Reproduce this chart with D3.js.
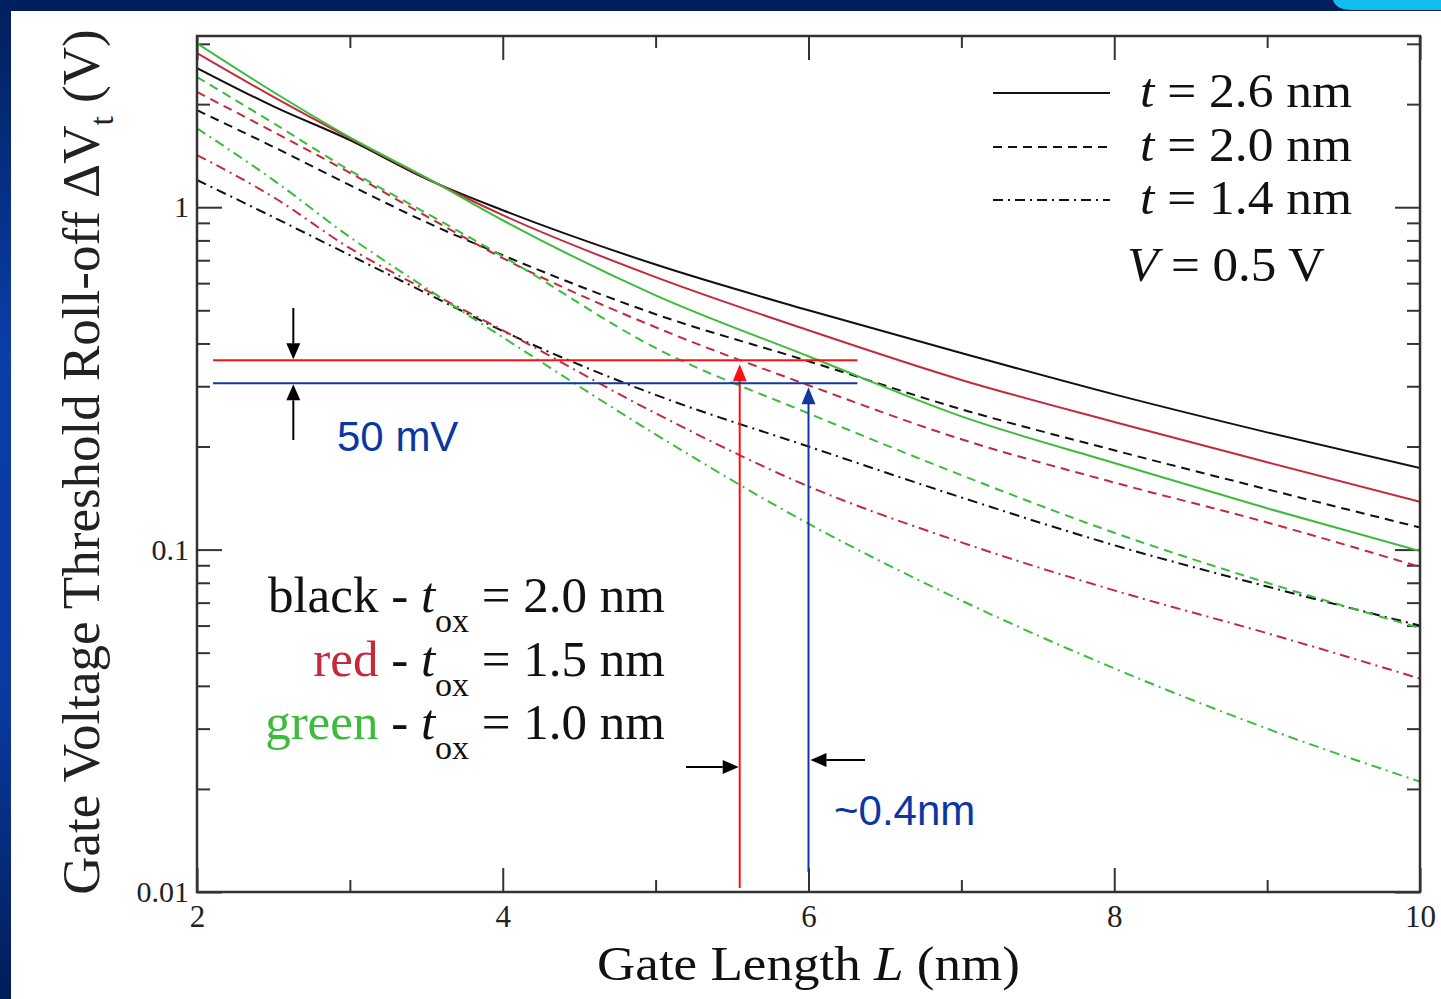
<!DOCTYPE html>
<html>
<head>
<meta charset="utf-8">
<script src="https://cdn.jsdelivr.net/npm/d3@7"></script>
<style>
body { margin: 0; background: #fff; }
svg { display: block; }
text { white-space: pre; }
.serif { font-family: 'Liberation Serif', 'Times New Roman', serif; }
.sans { font-family: 'Liberation Sans', Arial, sans-serif; }
</style>
</head>
<body>
<script>
// gate length L (nm)
const gateLength = [2, 2.5, 3, 3.5, 4, 5, 6, 7, 8, 9, 10];

// threshold roll-off dVt (V), black = tox 2.0 nm
const black26 = [2.55, 1.97, 1.57, 1.21, 0.98, 0.68, 0.50, 0.375, 0.284, 0.22, 0.173];
const black20 = [1.92, 1.50, 1.16, 0.904, 0.724, 0.487, 0.355, 0.257, 0.195, 0.150, 0.116];
const black14 = [1.20, 0.935, 0.724, 0.561, 0.435, 0.283, 0.200, 0.142, 0.103, 0.078, 0.060];
// red = tox 1.5 nm
const red26 = [2.82, 2.10, 1.59, 1.215, 0.948, 0.625, 0.437, 0.313, 0.236, 0.180, 0.138];
const red20 = [2.17, 1.66, 1.26, 0.941, 0.710, 0.446, 0.302, 0.210, 0.157, 0.120, 0.089];
const red14 = [1.42, 1.07, 0.759, 0.572, 0.437, 0.250, 0.153, 0.105, 0.076, 0.057, 0.042];
// green = tox 1.0 nm
const green26 = [3.01, 2.17, 1.60, 1.22, 0.916, 0.553, 0.367, 0.245, 0.179, 0.132, 0.099];
const green20 = [2.40, 1.76, 1.28, 0.961, 0.719, 0.388, 0.250, 0.165, 0.112, 0.080, 0.059];
const green14 = [1.70, 1.20, 0.818, 0.580, 0.417, 0.217, 0.119, 0.071, 0.045, 0.030, 0.021];

const xTicksMajor = [2, 4, 6, 8, 10];
const xTicksMinor = [3, 5, 7, 9];
const yTicksMajor = [0.01, 0.1, 1];
const yTickLabels = ['0.01', '0.1', '1'];

const tLabels = ['2.6', '2.0', '1.4'];
const toxNames = ['black', 'red', 'green'];
const toxLabels = ['2.0', '1.5', '1.0'];

// 50 mV annotation: levels (V) and gate lengths where the curves hit them
const markLevels = [0.357, 0.306];
const markLengths = [5.55, 6.0];

const colors = { black: '#111111', red: '#c42a3c', green: '#3cbb3c' };
const dashes = ['none', '9,6', '10,5,2,5'];

const W = 1441, H = 999;
const plot = { left: 197, right: 1420, top: 36, bottom: 892 };

const svg = d3.select('body').append('svg')
    .attr('width', W)
    .attr('height', H);

// slide background
const defs = svg.append('defs');
const grad = defs.append('linearGradient').attr('id', 'side').attr('x1', 0).attr('x2', 0).attr('y1', 0).attr('y2', 1);
grad.append('stop').attr('offset', 0).attr('stop-color', '#001f5c');
grad.append('stop').attr('offset', 0.35).attr('stop-color', '#0b3ea8');
grad.append('stop').attr('offset', 0.7).attr('stop-color', '#0a3aa0');
grad.append('stop').attr('offset', 1).attr('stop-color', '#001d58');
defs.append('clipPath').attr('id', 'clip').append('rect')
    .attr('x', plot.left).attr('y', plot.top)
    .attr('width', plot.right - plot.left).attr('height', plot.bottom - plot.top);

svg.append('rect').attr('width', W).attr('height', H).attr('fill', '#fff');
svg.append('rect').attr('width', W).attr('height', 11).attr('fill', '#001f5c');
svg.append('rect').attr('width', 11).attr('height', H).attr('fill', 'url(#side)');
svg.append('path').attr('d', 'M1333,0H1441V10H1352Q1336,10 1333,0Z').attr('fill', '#12bdf0');

// scales
const x = d3.scaleLinear().domain([2, 10]).range([plot.left, plot.right]);
const y = d3.scaleLog().domain([0.01, Math.sqrt(10)]).range([plot.bottom, plot.top]);
const yTicksMinor = y.ticks().filter((d) => !yTicksMajor.some((m) => Math.abs(m - d) < 1e-9));

// axes: major ticks long, minor short, all pointing inward
const axisColor = '#333';
function drawAxis(axis, tx, ty) {
    const g = svg.append('g').attr('transform', `translate(${tx},${ty})`).call(axis);
    g.select('.domain').remove();
    g.selectAll('.tick line').attr('stroke', axisColor).attr('stroke-width', 2);
    g.selectAll('.tick text').attr('class', 'serif').attr('fill', '#222');
    return g;
}
const xb = drawAxis(d3.axisBottom(x).tickValues(xTicksMajor).tickSize(-24).tickPadding(13).tickFormat(d3.format('d')), 0, plot.bottom);
xb.selectAll('.tick text').attr('font-size', 31);
drawAxis(d3.axisBottom(x).tickValues(xTicksMinor).tickSize(-12).tickFormat(''), 0, plot.bottom);
drawAxis(d3.axisTop(x).tickValues(xTicksMajor).tickSize(-24).tickFormat(''), 0, plot.top);
drawAxis(d3.axisTop(x).tickValues(xTicksMinor).tickSize(-12).tickFormat(''), 0, plot.top);

const yl = drawAxis(d3.axisLeft(y).tickValues(yTicksMajor).tickSize(-25).tickPadding(8)
    .tickFormat((d, i) => yTickLabels[i]), plot.left, 0);
yl.selectAll('.tick text').attr('font-size', 30);
drawAxis(d3.axisLeft(y).tickValues(yTicksMinor).tickSize(-13).tickFormat(''), plot.left, 0);
drawAxis(d3.axisRight(y).tickValues(yTicksMajor).tickSize(-25).tickFormat(''), plot.right, 0);
drawAxis(d3.axisRight(y).tickValues(yTicksMinor).tickSize(-13).tickFormat(''), plot.right, 0);

// curves
const series = [
    { vals: black26, color: colors.black, dash: dashes[0] },
    { vals: black20, color: colors.black, dash: dashes[1] },
    { vals: black14, color: colors.black, dash: dashes[2] },
    { vals: red26, color: colors.red, dash: dashes[0] },
    { vals: red20, color: colors.red, dash: dashes[1] },
    { vals: red14, color: colors.red, dash: dashes[2] },
    { vals: green26, color: colors.green, dash: dashes[0] },
    { vals: green20, color: colors.green, dash: dashes[1] },
    { vals: green14, color: colors.green, dash: dashes[2] }
];
const line = d3.line()
    .x((d) => x(d[0]))
    .y((d) => y(d[1]))
    .curve(d3.curveMonotoneX);
svg.append('g').attr('clip-path', 'url(#clip)')
    .selectAll('path').data(series).enter().append('path')
    .attr('d', (s) => line(gateLength.map((L, i) => [L, s.vals[i]])))
    .attr('fill', 'none')
    .attr('stroke', (s) => s.color)
    .attr('stroke-width', 2)
    .attr('stroke-dasharray', (s) => s.dash);

// frame
svg.append('rect')
    .attr('x', plot.left).attr('y', plot.top)
    .attr('width', plot.right - plot.left).attr('height', plot.bottom - plot.top)
    .attr('fill', 'none').attr('stroke', axisColor).attr('stroke-width', 2.5);

// axis titles
svg.append('text').attr('class', 'serif')
    .attr('x', (plot.left + plot.right) / 2).attr('y', 980)
    .attr('text-anchor', 'middle').attr('font-size', 48).attr('fill', '#111')
    .attr('textLength', 423).attr('lengthAdjust', 'spacingAndGlyphs')
    .html('Gate Length <tspan font-style="italic">L</tspan> (nm)');
svg.append('text').attr('class', 'serif')
    .attr('transform', `translate(99,${(plot.top + plot.bottom) / 2 - 2}) rotate(-90)`)
    .attr('text-anchor', 'middle').attr('font-size', 53).attr('fill', '#222')
    .html('Gate Voltage Threshold Roll-off ΔV<tspan font-size="34" dy="14">t</tspan><tspan dy="-14"> (V)</tspan>');

// legend: line styles (t)
const legX0 = 993, legX1 = 1110;
const legRows = [93, 147, 200];
legRows.forEach((ly, i) => {
    svg.append('line')
        .attr('x1', legX0).attr('x2', legX1).attr('y1', ly).attr('y2', ly)
        .attr('stroke', '#111').attr('stroke-width', 2)
        .attr('stroke-dasharray', dashes[i]);
    svg.append('text').attr('class', 'serif')
        .attr('x', 1140).attr('y', ly + 14)
        .attr('font-size', 48).attr('fill', '#111')
        .attr('textLength', 212).attr('lengthAdjust', 'spacingAndGlyphs')
        .html(`<tspan font-style="italic">t</tspan> = ${tLabels[i]} nm`);
});
svg.append('text').attr('class', 'serif')
    .attr('x', 1127).attr('y', 281)
    .attr('font-size', 48).attr('fill', '#111')
    .attr('textLength', 198).attr('lengthAdjust', 'spacingAndGlyphs')
    .html('<tspan font-style="italic">V</tspan> = 0.5 V');

// legend: colours (tox)
const toxRows = [612, 676, 739];
toxRows.forEach((ty, i) => {
    svg.append('text').attr('class', 'serif')
        .attr('x', 665).attr('y', ty)
        .attr('text-anchor', 'end').attr('font-size', 51).attr('fill', '#111')
        .html(`<tspan fill="${colors[toxNames[i]]}">${toxNames[i]}</tspan> - <tspan font-style="italic">t</tspan><tspan font-size="34" dy="20">ox</tspan><tspan dy="-20"> = ${toxLabels[i]} nm</tspan>`);
});

// 50 mV annotation
const markColors = ['#ff1010', '#1238a0'];
const annX0 = x(2.105), annX1 = x(6.32);
markLevels.forEach((v, i) => {
    const yy = y(v), xx = x(markLengths[i]);
    svg.append('line').attr('x1', annX0).attr('x2', annX1).attr('y1', yy).attr('y2', yy)
        .attr('stroke', markColors[i]).attr('stroke-width', 2);
    svg.append('line').attr('x1', xx).attr('x2', xx).attr('y1', yy + 14).attr('y2', i === 0 ? plot.bottom - 4 : plot.bottom - 20)
        .attr('stroke', markColors[i]).attr('stroke-width', 2);
    svg.append('path')
        .attr('d', `M${xx},${yy + 4}L${xx - 7},${yy + 21}L${xx + 7},${yy + 21}Z`)
        .attr('fill', markColors[i]);
});

function arrow(x1, y1, x2, y2) {
    const a = Math.atan2(y2 - y1, x2 - x1);
    const len = 16, half = 7;
    const bx = x2 - len * Math.cos(a), by = y2 - len * Math.sin(a);
    svg.append('line').attr('x1', x1).attr('y1', y1).attr('x2', bx).attr('y2', by)
        .attr('stroke', '#000').attr('stroke-width', 2);
    svg.append('path')
        .attr('d', `M${x2},${y2}L${bx + half * Math.sin(a)},${by - half * Math.cos(a)}L${bx - half * Math.sin(a)},${by + half * Math.cos(a)}Z`)
        .attr('fill', '#000');
}
const ax = x(2.63);
arrow(ax, 308, ax, y(markLevels[0]) - 1);
arrow(ax, 440, ax, y(markLevels[1]) + 1);
arrow(686, 767, x(markLengths[0]) - 1, 767);
arrow(865, 760, x(markLengths[1]) + 2, 760);

const annBlue = '#0a37a0';
svg.append('text').attr('class', 'sans')
    .attr('x', 337).attr('y', 451).attr('font-size', 42).attr('fill', annBlue)
    .text('50 mV');
svg.append('text').attr('class', 'sans')
    .attr('x', 834).attr('y', 825).attr('font-size', 42).attr('fill', annBlue)
    .text('~0.4nm');
</script>
</body>
</html>
